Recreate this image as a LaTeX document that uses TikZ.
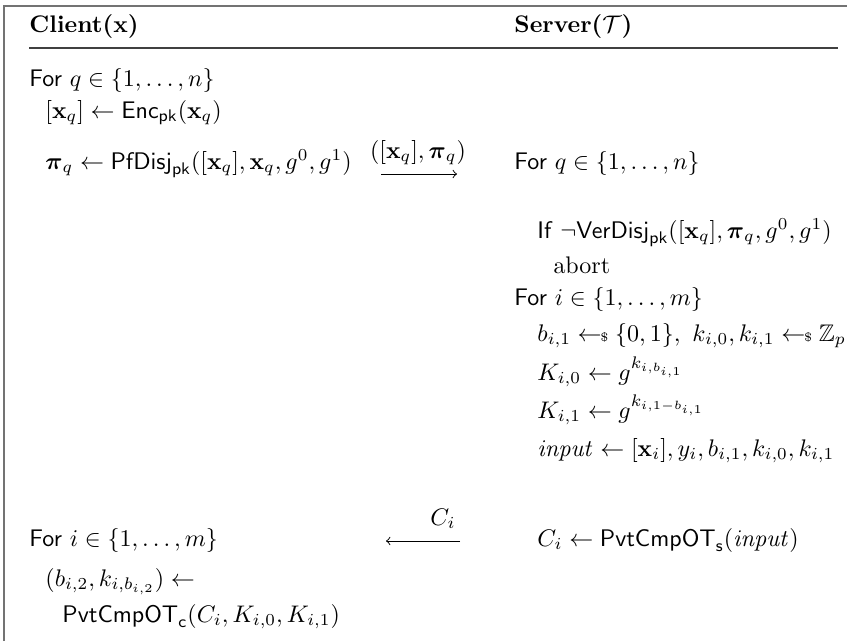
\documentclass[tikz,border=0pt]{standalone}
\usepackage{amsmath,amssymb}
\newcommand{\smp}{\mathrel{\gets\!\!\mbox{\tiny\$}}}
\begin{document}
\begin{tikzpicture}[x=0.4167pt,y=-0.4167pt,
  txt/.style={inner sep=0pt,anchor=base west},
  lbl/.style={inner sep=0pt,anchor=base},
  frame/.style={draw=black!55,line width=0.7pt},
  hrule/.style={draw=black!75,line width=0.7pt},
  msg/.style={line width=0.4pt}]
\useasboundingbox (0,0) rectangle (847,641);
% frame
\coordinate (ftr) at (847,6);
\coordinate (ftl) at (4,6);
\coordinate (fbl) at (4,641);
\draw[frame] (fbl) -- (ftl) -- (ftr);
% header
\node[txt] (hc) at (29,32) {\textbf{Client($\mathbf{x}$)}};
\node[txt] (hs) at (514,32) {\textbf{Server($\mathcal{T}$)}};
\coordinate (r1) at (29,48);
\coordinate (r2) at (838,48);
\draw[hrule] (r1) -- (r2);
% client
\node[txt] (c1) at (29,86) {\textsf{For} $q\in\{1,\ldots,n\}$};
\node[txt] (c2) at (45,118) {$[\mathbf{x}_q]\leftarrow\mathsf{Enc}_{\mathsf{pk}}(\mathbf{x}_q)$};
\node[txt] (c3) at (45,169) {$\boldsymbol{\pi}_q\leftarrow\mathsf{PfDisj}_{\mathsf{pk}}([\mathbf{x}_q],\mathbf{x}_q,g^0,g^1)$};
\node[txt] (c4) at (29,546) {\textsf{For} $i\in\{1,\ldots,m\}$};
\node[txt] (c5) at (45,586) {$(b_{i,2},k_{i,b_{i,2}})\leftarrow$};
\node[txt] (c6) at (62,622) {$\mathsf{PvtCmpOT}_{\mathsf{c}}(C_i,K_{i,0},K_{i,1})$};
% messages
\coordinate (m1s) at (381,174);
\coordinate (m1e) at (457,174);
\draw[msg,->] (m1s) -- (m1e);
\node[lbl] (m1l) at (418,158) {$([\mathbf{x}_q],\boldsymbol{\pi}_q)$};
\coordinate (m2s) at (460,541);
\coordinate (m2e) at (386,541);
\draw[msg,->] (m2s) -- (m2e);
\node[lbl] (m2l) at (443,525) {$C_i$};
% server
\node[txt] (s1) at (514,169) {\textsf{For} $q\in\{1,\ldots,n\}$};
\node[txt] (s2) at (537,238) {\textsf{If} $\neg\mathsf{VerDisj}_{\mathsf{pk}}([\mathbf{x}_q],\boldsymbol{\pi}_q,g^0,g^1)$};
\node[txt] (s3) at (553,273) {$\mathrm{abort}$};
\node[txt] (s4) at (514,305) {\textsf{For} $i\in\{1,\ldots,m\}$};
\node[txt] (s5) at (537,341) {$b_{i,1}\smp\{0,1\},\ k_{i,0},k_{i,1}\smp\mathbb{Z}_p$};
\node[txt] (s6) at (537,380) {$K_{i,0}\leftarrow g^{k_{i,b_{i,1}}}$};
\node[txt] (s7) at (537,418) {$K_{i,1}\leftarrow g^{k_{i,1-b_{i,1}}}$};
\node[txt] (s8) at (537,456) {$\mathit{input}\leftarrow[\mathbf{x}_i],y_i,b_{i,1},k_{i,0},k_{i,1}$};
\node[txt] (s9) at (537,546) {$C_i\leftarrow\mathsf{PvtCmpOT}_{\mathsf{s}}(\mathit{input})$};
\end{tikzpicture}
\end{document}
